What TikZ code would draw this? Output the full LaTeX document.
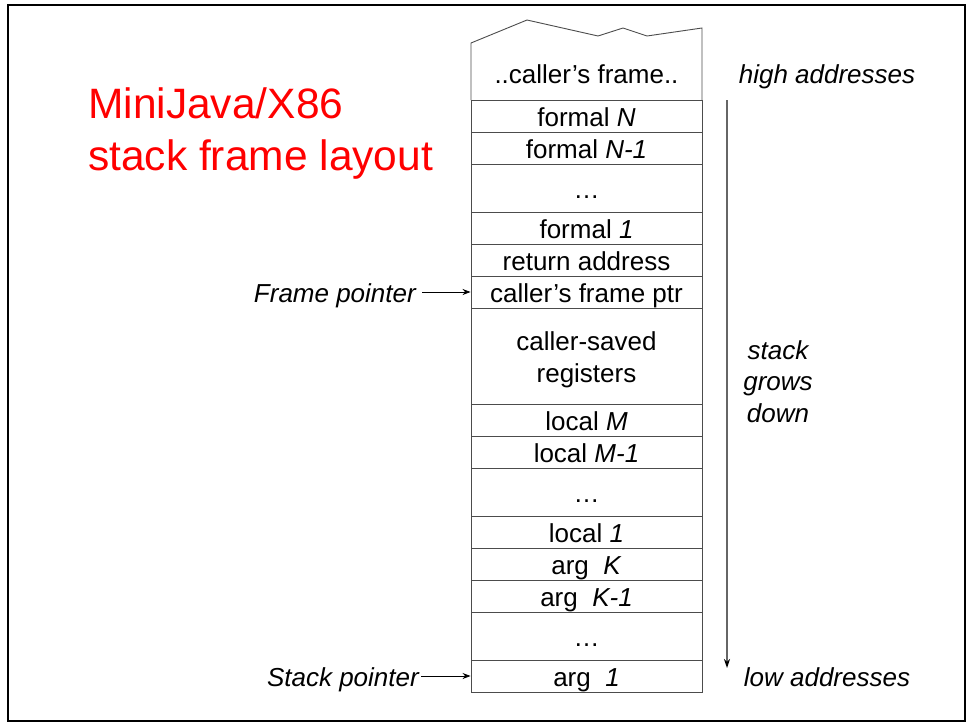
\documentclass[tikz,border=0pt]{standalone}
\usepackage{fontspec}
\setmainfont{Liberation Sans}
\usetikzlibrary{arrows.meta}
\begin{document}
\begin{tikzpicture}[x=1pt,y=-1pt,
  txt/.style={font=\fontsize{26}{30}\selectfont, inner sep=0pt},
  cellbase/.style={txt, draw=black!70, line width=0.9pt, minimum width=231pt, anchor=center},
  cell/.style={cellbase, text height=20pt, text depth=0pt},
  lbl/.style={txt, text height=20pt, text depth=0pt, font=\fontsize{26}{30}\selectfont\itshape},
  ptr/.style={line width=0.8pt, -{Stealth[length=8pt,width=6pt]}},
]
\useasboundingbox (0,0) rectangle (967,723);
\draw[line width=2pt] (8,5) rectangle (965,721);

% title
\node[txt, text=red, font=\fontsize{42.5}{52}\selectfont, align=left, anchor=north west] (title) at (88,87.5) {MiniJava/X86\\stack frame layout};

% top jagged cell
\draw[draw=black!70, line width=0.9pt] (471,100) -- (471,43) -- (527,20) -- (598,36) -- (623,28) -- (647,36) -- (702,28) -- (702,100);
\node[txt, text height=20pt, text depth=0pt] (caller) at (586.5,73) {..caller’s frame..};

% cells
\node[cell, minimum height=32pt] (fN)  at (586.5,116) {formal \textit{N}};
\node[cell, minimum height=32pt] (fN1) at (586.5,148) {formal \textit{N-1}};
\node[cell, minimum height=48pt] (fd)  at (586.5,188) {…};
\node[cell, minimum height=32pt] (f1)  at (586.5,228) {formal \textit{1}};
\node[cell, minimum height=32pt] (ret) at (586.5,260) {return address};
\node[cell, minimum height=32pt] (cfp) at (586.5,292) {caller’s frame ptr};
\node[cellbase, minimum height=96pt] (csr) at (586.5,356) {};
\node[txt, font=\fontsize{26}{32}\selectfont, align=center, anchor=north] (csrtext) at (586.5,331) {caller-saved\\registers};
\node[cell, minimum height=32pt] (lM)  at (586.5,420) {local \textit{M}};
\node[cell, minimum height=32pt] (lM1) at (586.5,452) {local \textit{M-1}};
\node[cell, minimum height=48pt] (ld)  at (586.5,492) {…};
\node[cell, minimum height=32pt] (l1)  at (586.5,532) {local \textit{1}};
\node[cell, minimum height=32pt] (aK)  at (586.5,564) {arg\ \ \textit{K}};
\node[cell, minimum height=32pt] (aK1) at (586.5,596) {arg\ \ \textit{K-1}};
\node[cell, minimum height=48pt] (ad)  at (586.5,636) {…};
\node[cell, minimum height=32pt] (a1)  at (586.5,676) {arg\ \ \textit{1}};

% pointer labels
\node[lbl, anchor=east] (fp) at (416,292) {Frame pointer};
\node[lbl, anchor=east] (sp) at (419,676) {Stack pointer};
\draw[ptr] ([xshift=6pt]fp.east) -- (cfp.west);
\draw[ptr] ([xshift=2pt]sp.east) -- (a1.west);

% right side labels
\node[lbl] (high) at (827,73) {high addresses};
\node[lbl] (low) at (827,676) {low addresses};
\node[txt, font=\fontsize{26}{31.5}\selectfont\itshape, align=center, anchor=north] (grow) at (778,340) {stack\\grows\\down};

\coordinate (gtop) at (727,100);
\coordinate (gbot) at (727,668);
\draw[draw=black!60, line width=1.4pt, -{Stealth[length=9pt,width=6pt,color=black]}] (gtop) -- (gbot);
\end{tikzpicture}
\end{document}
